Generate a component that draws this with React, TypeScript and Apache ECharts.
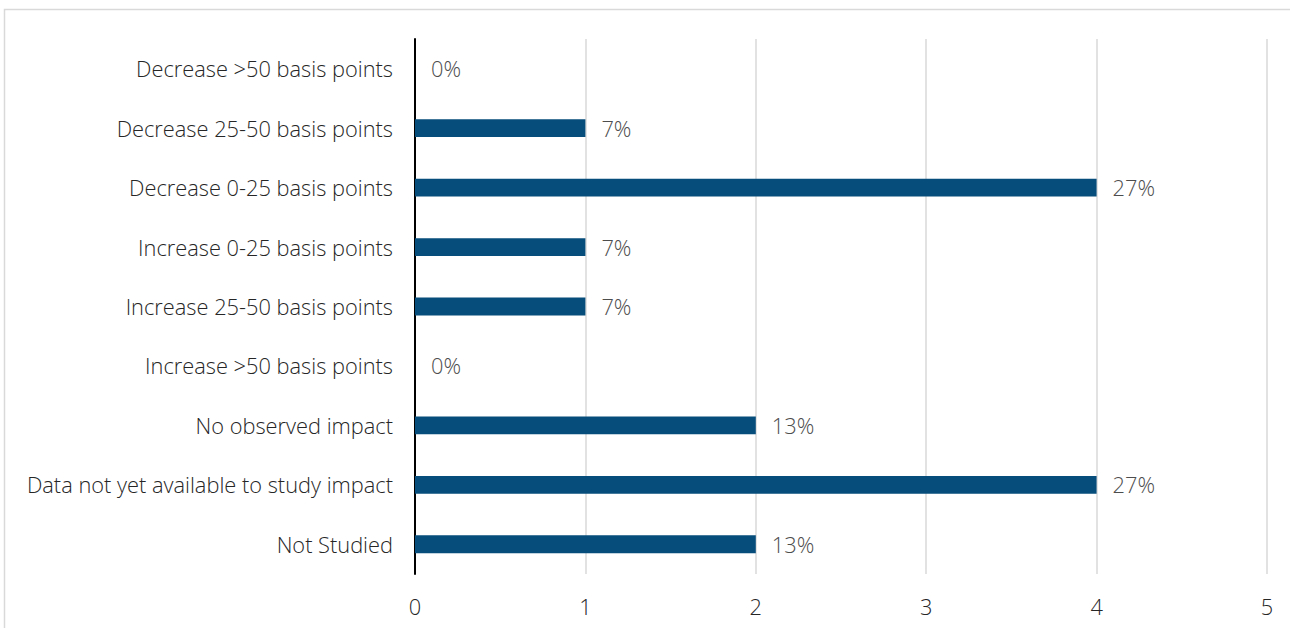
import React, { useEffect, useRef } from "react";
import * as echarts from "echarts";

const categories = [
  "Decrease >50 basis points",
  "Decrease 25-50 basis points",
  "Decrease 0-25 basis points",
  "Increase 0-25 basis points",
  "Increase 25-50 basis points",
  "Increase >50 basis points",
  "No observed impact",
  "Data not yet available to study impact",
  "Not Studied",
];
const counts = [0, 1, 4, 1, 1, 0, 2, 4, 2];
const percentLabels = ["0%", "7%", "27%", "7%", "7%", "0%", "13%", "27%", "13%"];
const xTicks = [0, 1, 2, 3, 4, 5];

export default function App() {
  const ref = useRef<HTMLDivElement>(null);
  useEffect(() => {
    if (!ref.current) return;
    const chart = echarts.init(ref.current, null, { renderer: "svg" });
    const font = "'Open Sans', 'Noto Sans', sans-serif";
    chart.setOption({
      animation: false,
      backgroundColor: "#ffffff",
      textStyle: { fontFamily: font },
      graphic: [
        {
          type: "rect",
          shape: { x: 4.5, y: 9.5, width: 1300, height: 640 },
          style: { fill: "none", stroke: "#d9d9d9", lineWidth: 1.5 },
          silent: true,
          z: -1,
        },
      ],
      grid: { left: 415, right: 23, top: 39, bottom: 54, containLabel: false },
      xAxis: {
        type: "value",
        min: xTicks[0],
        max: xTicks[xTicks.length - 1],
        interval: 1,
        axisLine: { show: false },
        axisTick: { show: false },
        splitLine: { show: true, lineStyle: { color: "#d9d9d9", width: 1.5 } },
        axisLabel: { fontSize: 21.8, fontWeight: 300, color: "#262626", margin: 21, fontFamily: font },
      },
      yAxis: {
        type: "category",
        data: categories,
        inverse: true,
        axisLine: { show: true, lineStyle: { color: "#000000", width: 2 } },
        axisTick: { show: false },
        axisLabel: { fontSize: 21.8, fontWeight: 300, color: "#262626", margin: 22, fontFamily: font },
      },
      series: [
        {
          type: "bar",
          data: counts,
          barWidth: "30%",
          itemStyle: { color: "#074d7b" },
          label: {
            show: true,
            position: "right",
            distance: 16,
            fontSize: 21.8,
            fontWeight: 300,
            color: "#4d4d4d",
            fontFamily: font,
            formatter: (p: any) => percentLabels[p.dataIndex],
          },
        },
      ],
    });
    return () => chart.dispose();
  }, []);
  return (
    <div
      ref={ref}
      style={{ position: "fixed", left: 0, top: 0, width: 1290, height: 628 }}
    />
  );
}
